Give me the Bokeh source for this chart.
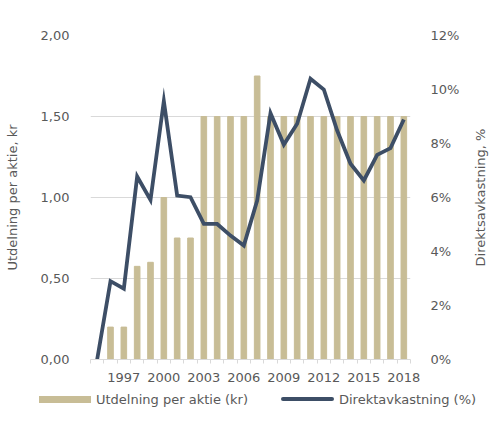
import math
from bokeh.plotting import figure
from bokeh.layouts import column, row
from bokeh.core.properties import value
from bokeh.models import (Range1d, LinearAxis, FixedTicker, CustomJSTickFormatter, Div)
from bokeh.embed import file_html
from bokeh.resources import INLINE

years = list(range(1995, 2019))
dividend = [0.0, 0.20, 0.20, 0.575, 0.60, 1.00, 0.75, 0.75, 1.50, 1.50, 1.50, 1.50,
            1.75, 1.50, 1.50, 1.50, 1.50, 1.50, 1.50, 1.50, 1.50, 1.50, 1.50, 1.50]
yield_pct = [0.0, 2.9, 2.62, 6.78, 5.91, 9.57, 6.07, 6.01, 5.02, 5.02, 4.59, 4.22,
             5.89, 9.12, 7.96, 8.73, 10.4, 10.0, 8.48, 7.25, 6.63, 7.58, 7.83, 8.89]
x_tick_years = [1997, 2000, 2003, 2006, 2009, 2012, 2015, 2018]
left_ticks = [0, 0.5, 1.0, 1.5, 2.0]
right_ticks = [0, 2, 4, 6, 8, 10, 12]
legend_labels = ["Utdelning per aktie (kr)", "Direktavkastning (%)"]
left_label = "Utdelning per aktie, kr"
right_label = "Direktsavkastning, %"

BAR = "#c8bd96"
LINE = "#3d4e66"
TXT = "#595959"
GRID = "#d9d9d9"
FONT = "DejaVu Sans"

p = figure(width=462, height=390, output_backend="svg", toolbar_location=None,
           x_range=Range1d(1994.5, 2018.5), y_range=Range1d(0, 2),
           min_border_left=90, min_border_right=44, min_border_top=35,
           min_border_bottom=31)
p.outline_line_color = None
p.extra_y_ranges = {"pct": Range1d(0, 12)}

bars = p.vbar(x=years, top=dividend, width=0.42, color=BAR)
line = p.line(x=years, y=yield_pct, y_range_name="pct", line_color=LINE,
              line_width=3.8, line_join="miter")

# x axis
xa = p.xaxis[0]
xa.ticker = FixedTicker(ticks=x_tick_years,
                        minor_ticks=[y - 0.5 for y in years] + [2018.5])
xa.major_tick_out = 0
xa.major_tick_in = 0
xa.minor_tick_out = 4
xa.minor_tick_in = 0
xa.minor_tick_line_color = GRID
xa.axis_line_color = GRID
xa.major_label_text_font = FONT
xa.major_label_text_font_size = "13px"
xa.major_label_text_color = TXT
xa.major_label_standoff = 9

# left axis
ya = p.yaxis[0]
ya.ticker = FixedTicker(ticks=left_ticks)
ya.formatter = CustomJSTickFormatter(code="return tick.toFixed(2).replace('.', ',');")
ya.axis_line_color = None
ya.major_tick_line_color = None
ya.minor_tick_line_color = None
ya.major_label_text_font = FONT
ya.major_label_text_font_size = "13px"
ya.major_label_text_color = TXT
ya.major_label_standoff = 15
ya.axis_label = left_label
ya.axis_label_text_font = FONT
ya.axis_label_text_font_size = "13px"
ya.axis_label_text_font_style = "normal"
ya.axis_label_text_color = TXT
ya.axis_label_standoff = 18

# right axis (tick labels only; its title is drawn in the strip to the right)
ra = LinearAxis(y_range_name="pct", ticker=FixedTicker(ticks=right_ticks),
                formatter=CustomJSTickFormatter(code="return tick.toFixed(0) + '%';"))
ra.axis_line_color = None
ra.major_tick_line_color = None
ra.minor_tick_line_color = None
ra.major_label_text_font = FONT
ra.major_label_text_font_size = "13px"
ra.major_label_text_color = TXT
ra.major_label_standoff = 14
p.add_layout(ra, "right")

p.xgrid.grid_line_color = None
p.ygrid.grid_line_color = GRID
p.ygrid.ticker = FixedTicker(ticks=left_ticks)

# narrow strip holding the right axis title, reading bottom-to-top
side = figure(width=27, height=390, output_backend="svg", toolbar_location=None,
              x_range=Range1d(0, 27), y_range=Range1d(0, 1),
              x_axis_type=None, y_axis_type=None, min_border=0)
side.outline_line_color = None
side.xgrid.grid_line_color = None
side.ygrid.grid_line_color = None
side.text(x=[18], y=[0.5], text=[right_label], angle=math.pi / 2,
          text_align="center", text_baseline="middle",
          text_font=value(FONT), text_font_size="13px", text_color=TXT)

# legend strip below the chart
legend_html = (
    f'<div style="position:relative;width:489px;height:33px;font-family:\'{FONT}\';'
    f'font-size:13px;color:{TXT};white-space:nowrap">'
    f'<span style="position:absolute;left:39px;top:6px;width:52px;height:7px;'
    f'background:{BAR}"></span>'
    f'<span style="position:absolute;left:96px;top:0px;line-height:20px">{legend_labels[0]}</span>'
    f'<span style="position:absolute;left:281px;top:7px;width:53px;height:4px;'
    f'border-radius:2px;background:{LINE}"></span>'
    f'<span style="position:absolute;left:339px;top:0px;line-height:20px">{legend_labels[1]}</span>'
    f'</div>'
)
lg = Div(text=legend_html, width=489, height=33, margin=0)

layout = column(row(p, side, spacing=0), lg, spacing=0)
open("out.html", "w").write(file_html(layout, INLINE))
